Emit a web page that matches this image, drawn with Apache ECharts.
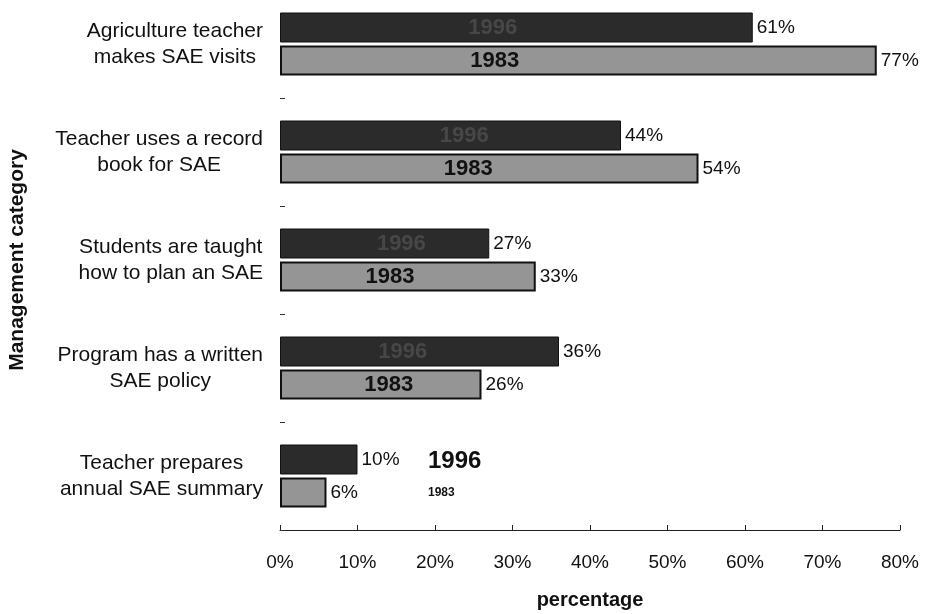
<!DOCTYPE html>
<html>
<head>
<meta charset="utf-8">
<script src="https://cdn.jsdelivr.net/npm/echarts@6/dist/echarts.min.js"></script>
<style>html,body{margin:0;padding:0;background:#fff}#c{width:932px;height:614px}</style>
</head>
<body>
<div id="c"></div>
<script>
const categories = [
  "Agriculture teacher\nmakes SAE visits",
  "Teacher uses a record\nbook for SAE",
  "Students are taught\nhow to plan an SAE",
  "Program has a written\nSAE policy",
  "Teacher prepares\nannual SAE summary"
];
const values1996 = [61, 44, 27, 36, 10];
const values1983 = [77, 54, 33, 26, 6];
const xTicks = [0, 10, 20, 30, 40, 50, 60, 70, 80];
const seriesNames = ["1996", "1983"];

// style: where the year label sits inside each bar (fraction of bar length)
const innerPos1996 = ['45%', '54%', '58%', '44%', null];
const innerPos1983 = ['36%', '45%', '43%', '54%', null];

const FONT = '"Liberation Sans", Arial, sans-serif';

function innerData(vals, posArr, name, textColor) {
  return vals.map((v, i) => ({
    value: v,
    label: posArr[i] ? {
      show: true,
      position: [posArr[i], '50%'],
      align: 'center',
      verticalAlign: 'middle',
      formatter: name,
      fontFamily: FONT,
      fontWeight: 'bold',
      fontSize: 22,
      color: textColor
    } : { show: false }
  }));
}

const pctLabel = { show: true, position: 'right', distance: 4, formatter: '{c}%', fontSize: 19, color: '#111', fontFamily: FONT };

const chart = echarts.init(document.getElementById('c'), null, { renderer: 'canvas' });

const hiddenY = {
  type: 'category', inverse: true, data: categories, show: false
};

const option = {
  animation: false,
  backgroundColor: '#ffffff',
  textStyle: { fontFamily: FONT },
  grid: { left: 280, right: 32, top: -10, bottom: 84, containLabel: false, outerBoundsMode: 'none' },
  xAxis: {
    type: 'value',
    min: xTicks[0],
    max: xTicks[xTicks.length - 1],
    interval: xTicks[1] - xTicks[0],
    axisLine: { show: true, lineStyle: { color: '#222', width: 1 } },
    axisTick: { show: true, inside: true, length: 5, lineStyle: { color: '#222' } },
    splitLine: { show: false },
    axisLabel: { formatter: '{value}%', fontSize: 19, color: '#111', margin: 23, fontFamily: FONT },
    name: 'percentage',
    nameLocation: 'middle',
    nameGap: 60,
    nameTextStyle: { fontSize: 20, fontWeight: 'bold', color: '#111', fontFamily: FONT }
  },
  yAxis: [{
    type: 'category',
    inverse: true,
    data: categories,
    axisLine: { show: false },
    axisTick: { show: true, inside: true, length: 5, lineStyle: { color: '#333' } },
    splitLine: { show: false },
    axisLabel: {
      margin: 17,
      formatter: (val) => val.split('\n').map(s => '{a|' + s + '}').join('\n'),
      rich: { a: { align: 'center', fontSize: 21, lineHeight: 26, color: '#111', fontFamily: FONT } }
    },
    name: 'Management category',
    nameLocation: 'middle',
    nameRotate: 90,
    nameGap: 252,
    nameTextStyle: { fontSize: 21, fontWeight: 'bold', color: '#111', fontFamily: FONT }
  }, hiddenY],
  series: [
    {
      name: seriesNames[0],
      type: 'bar',
      yAxisIndex: 0,
      barWidth: 30,
      barGap: '10%',
      data: innerData(values1996, innerPos1996, seriesNames[0], '#474747'),
      itemStyle: { color: '#2b2b2b', borderColor: '#111', borderWidth: 1 }
    },
    {
      name: seriesNames[1],
      type: 'bar',
      yAxisIndex: 0,
      barWidth: 30,
      barGap: '10%',
      data: innerData(values1983, innerPos1983, seriesNames[1], '#111'),
      itemStyle: { color: '#959595', borderColor: '#111', borderWidth: 2 }
    },
    {
      name: seriesNames[0] + ' %',
      type: 'bar',
      yAxisIndex: 1,
      barWidth: 30,
      barGap: '10%',
      data: values1996,
      itemStyle: { color: 'rgba(0,0,0,0)' },
      label: pctLabel,
      silent: true
    },
    {
      name: seriesNames[1] + ' %',
      type: 'bar',
      yAxisIndex: 1,
      barWidth: 30,
      barGap: '10%',
      data: values1983,
      itemStyle: { color: 'rgba(0,0,0,0)' },
      label: pctLabel,
      silent: true
    }
  ],
  graphic: [
    { type: 'text', left: 428, top: 449, style: { text: seriesNames[0], font: 'bold 24px ' + FONT, fill: '#111' } },
    { type: 'text', left: 428, top: 487, style: { text: seriesNames[1], font: 'bold 12px ' + FONT, fill: '#111' } }
  ]
};
chart.setOption(option);
</script>
</body>
</html>
